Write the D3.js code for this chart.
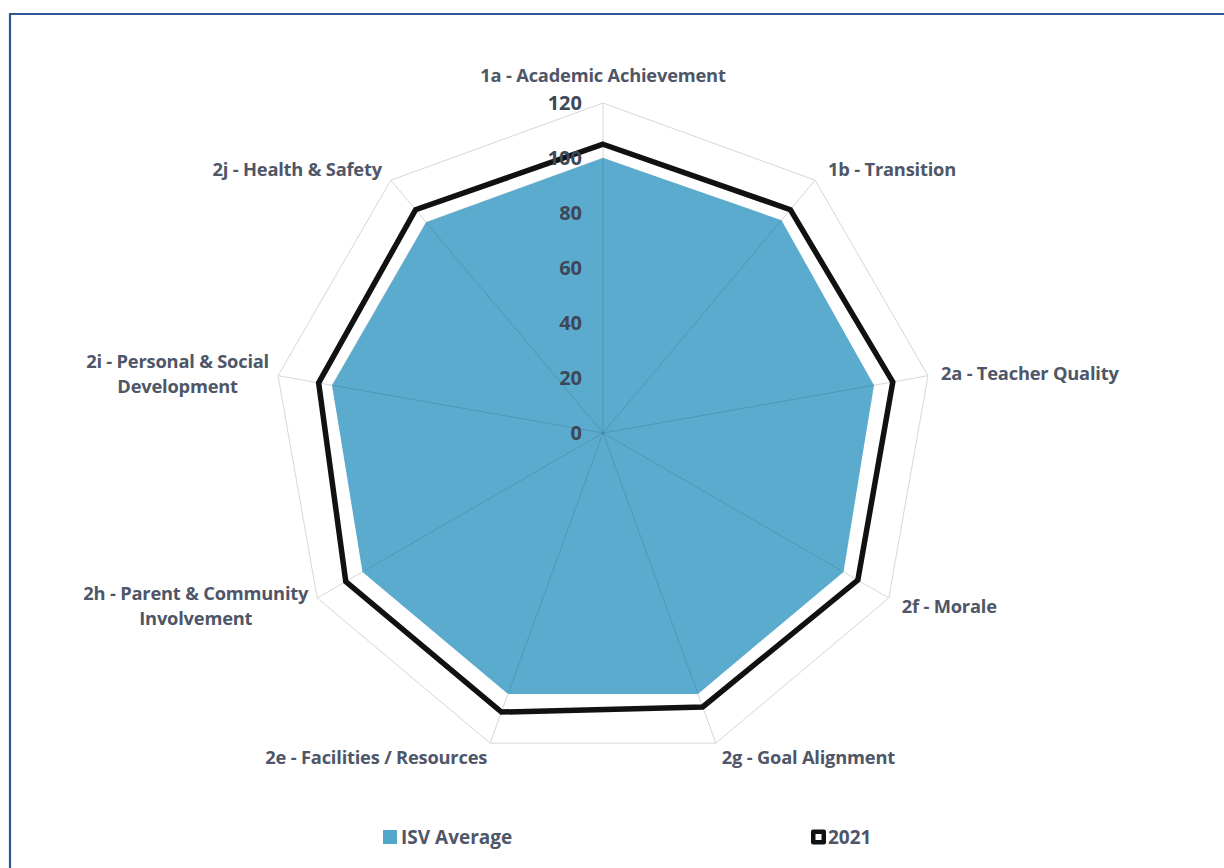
<!DOCTYPE html>
<html>
<head>
<meta charset="utf-8">
<script src="https://cdn.jsdelivr.net/npm/d3@7"></script>
<style>
  body { margin: 0; background: #fff; }
  svg { display: block; }
  .cat { font-family: "Open Sans", sans-serif; font-weight: 700; font-size: 18.3px; fill: #4e5668; letter-spacing: -0.2px; }
  .tick { font-family: "Open Sans", sans-serif; font-weight: 700; font-size: 20px; fill: #3e4757; }
  .legend { font-family: "Open Sans", sans-serif; font-weight: 700; font-size: 19px; fill: #4e5668; }
</style>
</head>
<body>
<svg id="chart" width="1224" height="868"></svg>
<script>
// axis labels, clockwise from the top
var categories = [
  ["1a - Academic Achievement"],
  ["1b - Transition"],
  ["2a - Teacher Quality"],
  ["2f - Morale"],
  ["2g - Goal Alignment"],
  ["2e - Facilities / Resources"],
  ["2h - Parent & Community", "Involvement"],
  ["2i - Personal & Social", "Development"],
  ["2j - Health & Safety"]
];
var isvAverage = [100, 101, 100, 101, 101, 101, 101, 100, 100];
var year2021   = [105, 106, 107, 107, 106, 108, 108, 105, 106];
var tickValues = [0, 20, 40, 60, 80, 100, 120];
var seriesNames = ["ISV Average", "2021"];

var svg = d3.select("#chart");
var cx = 603, cy = 433;

// frame
svg.append("path")
  .attr("d", "M10,870 L10,14 L1226,14")
  .attr("fill", "none")
  .attr("stroke", "#2f5597")
  .attr("stroke-width", 2.2);

var n = categories.length;
var angle = d3.scaleLinear().domain([0, n]).range([0, 2 * Math.PI]);
var r = d3.scaleLinear().domain([0, 120]).range([0, 330]);

var g = svg.append("g").attr("transform", "translate(" + cx + "," + cy + ")");

function pt(i, v) {
  var a = angle(i);
  return [Math.sin(a) * r(v), -Math.cos(a) * r(v)];
}

var radial = function(vals) {
  return d3.lineRadial()
    .angle(function(d, i) { return angle(i); })
    .radius(function(d) { return r(d); })
    .curve(d3.curveLinearClosed)(vals);
};

// grid rings + spokes
var gridG = g.append("g");
tickValues.slice(1).forEach(function(t) {
  gridG.append("path")
    .attr("d", radial(d3.range(n).map(function() { return t; })))
    .attr("fill", "none")
    .attr("stroke", "#d6d6d6")
    .attr("stroke-width", 1);
});
d3.range(n).forEach(function(i) {
  var p = pt(i, 120);
  gridG.append("line")
    .attr("x1", 0).attr("y1", 0)
    .attr("x2", p[0]).attr("y2", p[1])
    .attr("stroke", "#d6d6d6")
    .attr("stroke-width", 1);
});

// ISV average area (slightly see-through, grid shows faintly)
g.append("path")
  .attr("d", radial(isvAverage))
  .attr("fill", "#52a7cb")
  .attr("fill-opacity", 0.95);

// spokes faintly over fill
d3.range(n).forEach(function(i) {
  var p = pt(i, 100);
  g.append("line")
    .attr("x1", 0).attr("y1", 0)
    .attr("x2", p[0]).attr("y2", p[1])
    .attr("stroke", "rgba(20,70,100,0.18)")
    .attr("stroke-width", 1);
});

// 2021 line
g.append("path")
  .attr("d", radial(year2021))
  .attr("fill", "none")
  .attr("stroke", "#111")
  .attr("stroke-width", 5.5)
  .attr("stroke-linejoin", "miter");

// tick labels
g.selectAll("text.tick")
  .data(tickValues)
  .enter().append("text")
  .attr("class", "tick")
  .attr("x", -21)
  .attr("y", function(d) { return -r(d); })
  .attr("dy", "0.36em")
  .attr("text-anchor", "end")
  .text(function(d) { return d; });

// category labels
categories.forEach(function(lines, i) {
  var a = angle(i);
  var s = Math.sin(a), c = -Math.cos(a);
  var p = pt(i, 120);
  var x = p[0], y = p[1];
  var anchor = "middle";
  if (Math.abs(s) < 0.1) { y -= 28; }
  else if (c > 0.8) { x += s > 0 ? 6 : -3; y += 14; anchor = s > 0 ? "start" : "end"; }
  else {
    anchor = s > 0 ? "start" : "end";
    x += s > 0 ? 13 : -9;
    y += c < -0.5 ? -11 : (c > 0.3 ? 8 : -2);
  }
  var t = g.append("text").attr("class", "cat")
    .attr("text-anchor", lines.length > 1 ? "middle" : anchor);
  lines.forEach(function(line, k) {
    t.append("tspan").attr("x", x).attr("y", y + k * 25 - (lines.length - 1) * 12.5)
      .attr("dy", "0.36em").text(line);
  });
  if (lines.length > 1) {
    var w = d3.max(t.selectAll("tspan").nodes(), function(nd) { return nd.getComputedTextLength(); });
    var shift = anchor === "end" ? -w / 2 : w / 2;
    t.selectAll("tspan").attr("x", x + shift);
  }
});

// legend
var leg = svg.append("g");
leg.append("rect").attr("x", 383).attr("y", 830).attr("width", 14).attr("height", 14).attr("fill", "#52a7cb");
leg.append("text").attr("class", "legend").attr("x", 401).attr("y", 837).attr("dy", "0.36em").text(seriesNames[0]);
leg.append("rect").attr("x", 811).attr("y", 829.5).attr("width", 15).attr("height", 15).attr("rx", 2).attr("fill", "#111");
leg.append("rect").attr("x", 815.5).attr("y", 834).attr("width", 6).attr("height", 6).attr("fill", "#fff");
leg.append("text").attr("class", "legend").attr("x", 828).attr("y", 837).attr("dy", "0.36em").text(seriesNames[1]);
</script>
</body>
</html>
